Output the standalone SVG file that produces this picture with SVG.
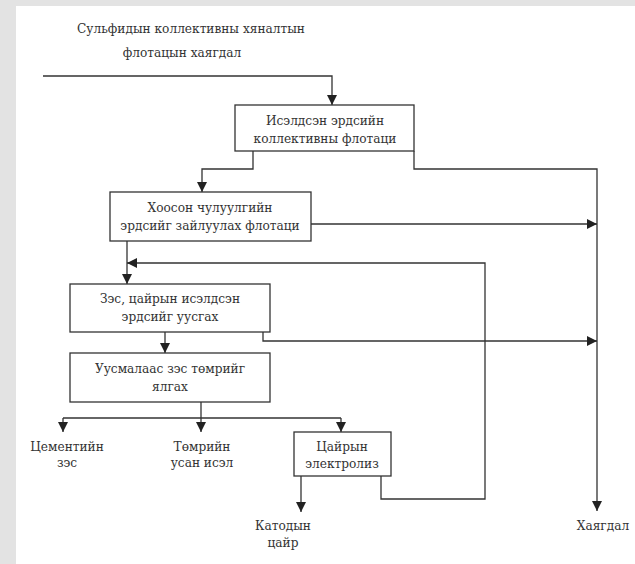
<svg xmlns="http://www.w3.org/2000/svg" width="635" height="564" viewBox="0 0 635 564">
<style>
.b{fill:#fff;stroke:#333;stroke-width:1.3}
.c{fill:none;stroke:#333;stroke-width:1.3}
</style>
<defs>
<marker id="a" viewBox="0 0 10 10" refX="10" refY="5" markerWidth="10" markerHeight="10" markerUnits="userSpaceOnUse" orient="auto">
<path d="M0,0 L10,5 L0,10 Z" fill="#222"/>
</marker>
</defs>
<rect x="0" y="0" width="635" height="564" fill="#e3e3e3"/>
<rect x="16" y="6" width="619" height="558" fill="#fff"/>
<g font-family="DejaVu Serif Condensed, DejaVu Serif, serif" font-stretch="condensed" font-size="13.5" fill="#333" text-anchor="middle">
<g id="title">
<text x="191" y="33">Сульфидын коллективны хяналтын</text>
<text x="182" y="57">флотацын хаягдал</text>
</g>
<g id="connectors">
<path class="c" d="M43,76 H332 V105" marker-end="url(#a)"/>
<path class="c" d="M253,151 V169 H202 V192" marker-end="url(#a)"/>
<path class="c" d="M414,151 V169 H597 V511" marker-end="url(#a)"/>
<path class="c" d="M311,224 H597" marker-end="url(#a)"/>
<path class="c" d="M127,241 V284" marker-end="url(#a)"/>
<path class="c" d="M381,476 V499 H485 V263 H127" marker-end="url(#a)"/>
<path class="c" d="M263,332 V341 H597" marker-end="url(#a)"/>
<path class="c" d="M165,332 V353" marker-end="url(#a)"/>
<path class="c" d="M201,402 V418"/>
<path class="c" d="M63,418 H341"/>
<path class="c" d="M63,418 V432" marker-end="url(#a)"/>
<path class="c" d="M201,418 V432" marker-end="url(#a)"/>
<path class="c" d="M341,418 V432" marker-end="url(#a)"/>
<path class="c" d="M301,476 V512" marker-end="url(#a)"/>
</g>
<g id="n1">
<rect class="b" x="235" y="105" width="179" height="46"/>
<text x="325" y="125">Исэлдсэн эрдсийн</text>
<text x="325" y="143">коллективны флотаци</text>
</g>
<g id="n2">
<rect class="b" x="110" y="192" width="201" height="49"/>
<text x="210" y="212">Хоосон чулуулгийн</text>
<text x="210" y="230">эрдсийг зайлуулах флотаци</text>
</g>
<g id="n3">
<rect class="b" x="70" y="284" width="200" height="48"/>
<text x="170" y="303">Зэс, цайрын исэлдсэн</text>
<text x="170" y="321">эрдсийг уусгах</text>
</g>
<g id="n4">
<rect class="b" x="70" y="353" width="200" height="49"/>
<text x="170" y="373">Уусмалаас зэс төмрийг</text>
<text x="170" y="391">ялгах</text>
</g>
<g id="n5">
<rect class="b" x="294" y="432" width="97" height="44"/>
<text x="342" y="451">Цайрын</text>
<text x="342" y="468">электролиз</text>
</g>
<g id="l1">
<text x="67" y="451">Цементийн</text>
<text x="67" y="467">зэс</text>
</g>
<g id="l2">
<text x="202" y="451">Төмрийн</text>
<text x="202" y="467">усан исэл</text>
</g>
<g id="l3">
<text x="283" y="530">Катодын</text>
<text x="283" y="547">цайр</text>
</g>
<g id="l4">
<text x="603" y="530">Хаягдал</text>
</g>
</g>
</svg>
